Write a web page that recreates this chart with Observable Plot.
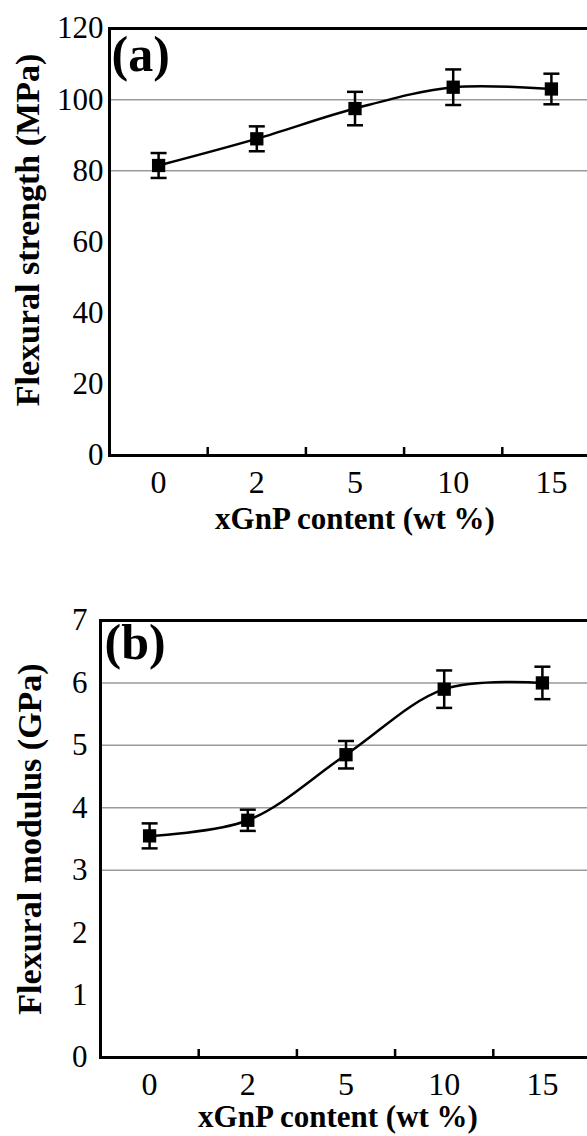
<!DOCTYPE html>
<html><head><meta charset="utf-8">
<script src="https://cdn.jsdelivr.net/npm/d3@7"></script>
<script src="https://cdn.jsdelivr.net/npm/@observablehq/plot@0.6"></script>
<style>
html,body{margin:0;padding:0;background:#fff;overflow:hidden;}
#wrap{width:587px;height:1136px;overflow:hidden;background:#fff;}
#wrap svg{display:block;max-width:none !important;}
</style></head><body><div id="wrap"></div>
<script>
const categories = ["0", "2", "5", "10", "15"];
const strengthMean = [81.5, 89, 97.5, 103.5, 103];
const strengthErr = [3.5, 3.5, 4.7, 5, 4.3];
const modulusMean = [3.55, 3.8, 4.85, 5.9, 6.0];
const modulusErr = [0.2, 0.17, 0.22, 0.3, 0.26];
const strengthTicks = [0, 20, 40, 60, 80, 100, 120];
const strengthGrid = [80, 100];
const modulusTicks = [0, 1, 2, 3, 4, 5, 6, 7];
const modulusGrid = [3, 4, 5, 6];
const panelLabels = ["(a)", "(b)"];
const xTitle = "xGnP content (wt %)";
const yTitles = ["Flexural strength (MPa)", "Flexural modulus (GPa)"];

const serif = "'Liberation Serif', 'DejaVu Serif', serif";
const capSymbol = {draw(ctx, size) { const r = Math.sqrt(size / Math.PI); ctx.moveTo(-r, 0); ctx.lineTo(r, 0); }};

function makeChart(cfg) {
  const n = categories.length;
  const data = categories.map((c, i) => ({i, v: cfg.mean[i], lo: cfg.mean[i] - cfg.err[i], hi: cfg.mean[i] + cfg.err[i]}));
  const centers = d3.range(n);
  const bounds = d3.range(1, n).map(i => i - 0.5);
  return Plot.plot({
    width: 620,
    height: cfg.height,
    marginLeft: cfg.ml,
    marginRight: 620 - cfg.right,
    marginTop: cfg.mt,
    marginBottom: cfg.mb,
    style: {fontFamily: serif, color: "black", background: "white", maxWidth: "none", overflow: "visible"},
    x: {type: "linear", domain: [-0.5, n - 0.5]},
    y: {domain: [0, cfg.ticks[cfg.ticks.length - 1]]},
    marks: [
      Plot.ruleY(cfg.grid, {stroke: "#9a9a9a", strokeWidth: 1.5}),
      Plot.frame({stroke: "black", strokeWidth: 3}),
      Plot.axisY(cfg.ticks, {tickSize: 0, tickPadding: cfg.yPad, tickFormat: d => String(d), fontSize: 31, fontFamily: serif, label: null}),
      Plot.axisX(centers, {tickFormat: i => categories[i], tickSize: 0, tickPadding: cfg.xPad, fontSize: 32, fontFamily: serif, label: null}),
      Plot.axisX(bounds, {tickSize: 8, dy: -8, strokeWidth: 2.5, fill: "none", label: null}),
      Plot.line(data, {x: "i", y: "v", curve: "catmull-rom", stroke: "black", strokeWidth: 2.5}),
      Plot.ruleX(data, {x: "i", y1: "lo", y2: "hi", stroke: "black", strokeWidth: 2.5}),
      Plot.dot(data, {x: "i", y: "lo", symbol: capSymbol, r: 8, stroke: "black", strokeWidth: 2.5, fill: "none"}),
      Plot.dot(data, {x: "i", y: "hi", symbol: capSymbol, r: 8, stroke: "black", strokeWidth: 2.5, fill: "none"}),
      Plot.dot(data, {x: "i", y: "v", symbol: "square", r: 7.5, fill: "black", stroke: "none"}),
      Plot.text([cfg.panel], {frameAnchor: "top-left", textAnchor: "start", lineAnchor: "top", dx: cfg.pdx, dy: cfg.pdy, fontSize: 50, fontWeight: "bold", fontFamily: serif, fill: "black"}),
      Plot.text([xTitle], {frameAnchor: "bottom", textAnchor: "middle", lineAnchor: "middle", dx: cfg.xtdx, dy: cfg.xtdy, fontSize: 31, fontWeight: "bold", fontFamily: serif, fill: "black"}),
      Plot.text([cfg.yTitle], {frameAnchor: "left", textAnchor: "middle", rotate: -90, lineAnchor: "middle", dx: cfg.ytdx, dy: cfg.ytdy, fontSize: 34, fontWeight: "bold", fontFamily: serif, fill: "black"})
    ]
  });
}

const wrap = document.getElementById("wrap");
wrap.append(makeChart({
  mean: strengthMean, err: strengthErr, ticks: strengthTicks, grid: strengthGrid,
  panel: panelLabels[0], yTitle: yTitles[0],
  height: 560, ml: 109, right: 600, mt: 28, mb: 105,
  yPad: 6, xPad: 15, pdx: 2, pdy: 7, xtdx: 0, xtdy: 64, ytdx: -81, ytdy: -12
}));
wrap.append(makeChart({
  mean: modulusMean, err: modulusErr, ticks: modulusTicks, grid: modulusGrid,
  panel: panelLabels[1], yTitle: yTitles[1],
  height: 576, ml: 100, right: 591, mt: 60, mb: 79,
  yPad: 13, xPad: 15, pdx: 4, pdy: 3, xtdx: -8, xtdy: 60, ytdx: -70, ytdy: 0
}));
</script>
</body></html>
